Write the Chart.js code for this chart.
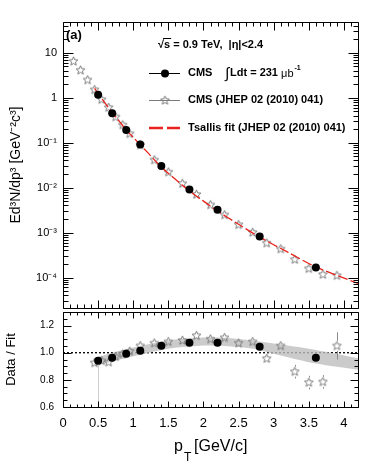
<!DOCTYPE html>
<html>
<head>
<meta charset="utf-8">
<script src="https://cdn.jsdelivr.net/npm/chart.js@4.4.1/dist/chart.umd.min.js"></script>
<style>
html, body { margin: 0; padding: 0; background: #fff; }
#wrap { position: relative; width: 374px; height: 474px; overflow: hidden; }
canvas { position: absolute; left: 0; }
#top { top: 0; }
#bot { top: 300px; }
</style>
</head>
<body>
<div id="wrap">
  <canvas id="top" width="374" height="314"></canvas>
  <canvas id="bot" width="374" height="174"></canvas>
</div>
<script>
// CMS, this measurement (filled circles)
var cmsPt = [0.5, 0.7, 0.9, 1.1, 1.4, 1.8, 2.2, 2.8, 3.6];
var cmsYield = [1.16, 0.45, 0.19, 0.091, 0.030, 0.0090, 0.0032, 0.00082, 0.000166];
var cmsRatio = [0.94, 0.963, 0.993, 1.015, 1.052, 1.074, 1.074, 1.044, 0.963];
var cmsRatioErrLo = [0.34, 0, 0, 0, 0, 0, 0, 0, 0];

// CMS JHEP 02 (2010) 041 (open stars)
var jhepPt = [0.15, 0.25, 0.35, 0.45, 0.55, 0.65, 0.75, 0.85, 0.95, 1.1, 1.3, 1.5, 1.7, 1.9, 2.1, 2.3, 2.5, 2.7, 2.9, 3.1, 3.3, 3.5, 3.7, 3.9];
var jhepYield = [6.4, 4.05, 2.46, 1.49, 0.90, 0.60, 0.37, 0.246, 0.157, 0.088, 0.041, 0.022, 0.0122, 0.0070, 0.0041, 0.00246, 0.00149, 0.0010, 0.00058, 0.00043, 0.00025, 0.000157, 0.000116, 0.00011];
var jhepRatioPt = [0.45, 0.55, 0.65, 0.75, 0.85, 0.95, 1.1, 1.3, 1.5, 1.7, 1.9, 2.1, 2.3, 2.5, 2.7, 2.9, 3.1, 3.3, 3.5, 3.7, 3.9];
var jhepRatio = [0.925, 0.94, 0.93, 0.97, 0.99, 1.01, 1.05, 1.07, 1.08, 1.09, 1.125, 1.10, 1.11, 1.07, 1.08, 0.956, 1.05, 0.86, 0.78, 0.785, 1.05];
var jhepRatioErr = [0.01, 0.01, 0.01, 0.01, 0.01, 0.01, 0.012, 0.012, 0.015, 0.015, 0.02, 0.02, 0.02, 0.025, 0.025, 0.03, 0.035, 0.05, 0.05, 0.05, 0.1];

// Tsallis fit (red dashed)
var fitPt = [0.45, 0.5, 0.6, 0.7, 0.8, 0.9, 1.0, 1.2, 1.4, 1.6, 1.8, 2.0, 2.2, 2.5, 2.8, 3.2, 3.6, 4.2];
var fitYield = [1.60, 1.23, 0.75, 0.467, 0.30, 0.191, 0.131, 0.0613, 0.0285, 0.0153, 0.0084, 0.0050, 0.0030, 0.00153, 0.00079, 0.000367, 0.000172, 0.000074];

// grey band in the ratio panel
var bandPt = [0.45, 0.7, 1.1, 1.5, 1.9, 2.3, 2.7, 3.1, 3.6, 4.2];
var bandLo = [0.90, 0.935, 0.985, 1.03, 1.05, 1.05, 1.03, 0.98, 0.92, 0.875];
var bandHi = [0.96, 1.00, 1.05, 1.09, 1.11, 1.11, 1.09, 1.06, 1.02, 0.96];

var xTicks = [0, 0.5, 1, 1.5, 2, 2.5, 3, 3.5, 4];
var logTicks = [1e-4, 1e-3, 1e-2, 1e-1, 1, 10];
var logTickLabels = ['10\u207B\u2074', '10\u207B\u00B3', '10\u207B\u00B2', '10\u207B\u00B9', '1', '10'];
var ratioTicks = [0.6, 0.8, 1.0, 1.2];

var FONT = '"Liberation Sans", Arial, Helvetica, sans-serif';
Chart.defaults.font.family = FONT;
Chart.defaults.color = '#000';

function pts(xs, ys) {
  return xs.map(function (x, i) { return { x: x, y: ys[i] }; });
}

function makeStar(r, color) {
  var s = Math.ceil(r * 2 + 3);
  var c = document.createElement('canvas');
  c.width = s; c.height = s;
  var g = c.getContext('2d');
  g.strokeStyle = color;
  g.lineWidth = 1;
  g.beginPath();
  for (var i = 0; i < 10; i++) {
    var ang = -Math.PI / 2 + i * Math.PI / 5;
    var rr = i % 2 ? r * 0.45 : r;
    var px = s / 2 + rr * Math.cos(ang), py = s / 2 + rr * Math.sin(ang);
    if (i) g.lineTo(px, py); else g.moveTo(px, py);
  }
  g.closePath();
  g.stroke();
  return c;
}
var star = makeStar(4.6, '#7a7a7a');

// ROOT style frame: box + inner ticks on all four sides
function drawFrame(chart, o) {
  var ctx = chart.ctx, a = chart.chartArea, xs = chart.scales.x, ys = chart.scales.y;
  ctx.save();
  ctx.strokeStyle = '#000';
  ctx.lineWidth = 1;
  var L = Math.round(a.left) + 0.5, R = Math.round(a.right) + 0.5;
  var T = Math.round(a.top) + 0.5, B = Math.round(a.bottom) + 0.5;
  ctx.beginPath();
  ctx.rect(L, T, R - L, B - T);
  for (var i = 0; i <= 42; i++) {
    var px = Math.round(xs.getPixelForValue(i / 10)) + 0.5;
    var len = i % 5 === 0 ? o.xMajor : o.xMinor;
    ctx.moveTo(px, T); ctx.lineTo(px, T + len);
    ctx.moveTo(px, B); ctx.lineTo(px, B - len);
  }
  o.yTicks.forEach(function (t) {
    if (t.v < ys.min - 1e-12 || t.v > ys.max + 1e-12) return;
    var py = Math.round(ys.getPixelForValue(t.v)) + 0.5;
    ctx.moveTo(L, py); ctx.lineTo(L + t.len, py);
    ctx.moveTo(R, py); ctx.lineTo(R - t.len, py);
  });
  ctx.stroke();
  ctx.restore();
}

var logMinor = [];
for (var e = -5; e <= 1; e++) {
  for (var k = 1; k <= 9; k++) {
    logMinor.push({ v: k * Math.pow(10, e), len: k === 1 ? 10 : 5 });
  }
}
var linMinor = [];
for (var j = 0; j <= 14; j++) {
  linMinor.push({ v: 0.6 + j * 0.05, len: j % 4 === 0 ? 8 : 4 });
}

var topFrame = {
  id: 'topFrame',
  afterDraw: function (chart) {
    drawFrame(chart, { xMajor: 8, xMinor: 4, yTicks: logMinor });
    var ctx = chart.ctx;
    ctx.save();
    ctx.fillStyle = '#000';
    ctx.textBaseline = 'middle';
    ctx.font = 'bold 13px ' + FONT;
    ctx.fillText('(a)', 66, 35);

    ctx.font = 'bold 11px ' + FONT;
    ctx.fillText('\u221A', 158, 45);
    var sx = 158 + ctx.measureText('\u221A').width;
    ctx.fillText('s = 0.9 TeV,  |\u03B7|<2.4', sx, 45);
    var sw = ctx.measureText('s').width;
    ctx.fillRect(sx - 1, 38, sw + 2, 1);

    // legend
    ctx.strokeStyle = '#000';
    ctx.lineWidth = 1;
    ctx.beginPath(); ctx.moveTo(149, 73.5); ctx.lineTo(180, 73.5); ctx.stroke();
    ctx.beginPath(); ctx.arc(165, 73.5, 4, 0, Math.PI * 2); ctx.fill();
    ctx.fillText('CMS', 188, 73);
    ctx.font = '15px ' + FONT;
    ctx.fillText('\u222B', 225, 74);
    ctx.font = 'bold 11px ' + FONT;
    ctx.fillText('Ldt = 231 ', 230, 73);
    var lx = 230 + ctx.measureText('Ldt = 231 ').width;
    ctx.font = '11px ' + FONT;
    ctx.fillText('\u03BCb', lx, 74);
    lx += ctx.measureText('\u03BCb').width;
    ctx.font = 'bold 7px ' + FONT;
    ctx.fillText('-1', lx + 1, 68);

    ctx.strokeStyle = '#7a7a7a';
    ctx.beginPath(); ctx.moveTo(149, 100.5); ctx.lineTo(180, 100.5); ctx.stroke();
    ctx.drawImage(star, 165 - star.width / 2, 100.5 - star.height / 2);
    ctx.font = 'bold 11px ' + FONT;
    ctx.fillText('CMS (JHEP 02 (2010) 041)', 188, 100);

    ctx.strokeStyle = '#e8221c';
    ctx.lineWidth = 2.5;
    ctx.beginPath();
    ctx.moveTo(149, 128); ctx.lineTo(163, 128);
    ctx.moveTo(167, 128); ctx.lineTo(180, 128);
    ctx.stroke();
    ctx.fillText('Tsallis fit (JHEP 02 (2010) 041)', 188, 128);
    ctx.restore();
  }
};

var botFrame = {
  id: 'botFrame',
  afterDatasetsDraw: function (chart) {
    var ctx = chart.ctx, xs = chart.scales.x, ys = chart.scales.y;
    ctx.save();
    ctx.lineWidth = 1;
    // error bars of the stars
    ctx.strokeStyle = '#8a8a8a';
    ctx.beginPath();
    jhepRatioPt.forEach(function (x, i) {
      var px = Math.round(xs.getPixelForValue(x)) + 0.5;
      var py = ys.getPixelForValue(jhepRatio[i]);
      var hi = ys.getPixelForValue(jhepRatio[i] + jhepRatioErr[i]);
      var lo = ys.getPixelForValue(jhepRatio[i] - jhepRatioErr[i]);
      if (py - hi > 5) { ctx.moveTo(px, hi); ctx.lineTo(px, py - 5); }
      if (lo - py > 5) { ctx.moveTo(px, py + 5); ctx.lineTo(px, lo); }
    });
    ctx.stroke();
    ctx.strokeStyle = '#cfcfcf';
    ctx.beginPath();
    cmsPt.forEach(function (x, i) {
      if (!cmsRatioErrLo[i]) return;
      var px = Math.round(xs.getPixelForValue(x)) + 0.5;
      ctx.moveTo(px, ys.getPixelForValue(cmsRatio[i]) + 4);
      ctx.lineTo(px, ys.getPixelForValue(cmsRatio[i] - cmsRatioErrLo[i]));
    });
    ctx.stroke();
    ctx.restore();
  },
  afterDraw: function (chart) {
    drawFrame(chart, { xMajor: 6, xMinor: 3, yTicks: linMinor });
    var ctx = chart.ctx;
    ctx.save();
    ctx.fillStyle = '#000';
    ctx.textBaseline = 'alphabetic';
    ctx.font = '16px ' + FONT;
    ctx.fillText('p', 174, 151);
    ctx.font = '12px ' + FONT;
    ctx.fillText('T', 184, 161);
    ctx.font = '16px ' + FONT;
    ctx.fillText('[GeV/c]', 194, 151);
    ctx.restore();
  }
};

new Chart(document.getElementById('top'), {
  type: 'scatter',
  data: {
    datasets: [
      { label: 'CMS', data: pts(cmsPt, cmsYield), pointStyle: 'circle', pointRadius: 4,
        backgroundColor: '#000', borderColor: '#000', borderWidth: 0 },
      { label: 'Tsallis fit', data: pts(fitPt, fitYield), showLine: true, pointRadius: 0,
        borderColor: '#e8221c', borderWidth: 1.3, borderDash: [10, 3], tension: 0.3 },
      { label: 'CMS (JHEP 02 (2010) 041)', data: pts(jhepPt, jhepYield), pointStyle: star,
        pointRadius: 5 }
    ]
  },
  options: {
    responsive: false,
    animation: false,
    layout: { padding: { top: 22, right: 16, bottom: 2, left: 0 } },
    plugins: { legend: { display: false }, tooltip: { enabled: false } },
    scales: {
      x: { type: 'linear', min: 0, max: 4.2, display: false },
      y: {
        type: 'logarithmic', min: 2.1e-5, max: 48,
        afterFit: function (s) { s.width = 63; s.paddingTop = 0; s.paddingBottom = 0; },
        afterBuildTicks: function (s) { s.ticks = logTicks.map(function (v) { return { value: v }; }); },
        ticks: {
          font: { size: 11 }, padding: 6, autoSkip: false,
          callback: function (v) { return logTickLabels[logTicks.indexOf(v)]; }
        },
        grid: { display: false, drawTicks: false },
        border: { display: false },
        title: { display: true, text: 'Ed\u00B3N/dp\u00B3 [GeV\u207B\u00B2c\u00B3]', font: { size: 14 },
          padding: { top: 8, bottom: 0 } }
      }
    }
  },
  plugins: [topFrame]
});

new Chart(document.getElementById('bot'), {
  type: 'scatter',
  data: {
    datasets: [
      { label: 'CMS', data: pts(cmsPt, cmsRatio), pointStyle: 'circle', pointRadius: 4,
        backgroundColor: '#000', borderColor: '#000', borderWidth: 0 },
      { label: 'JHEP', data: pts(jhepRatioPt, jhepRatio), pointStyle: star, pointRadius: 5 },
      { label: 'band hi', data: pts(bandPt, bandHi), showLine: true, pointRadius: 0, borderWidth: 0,
        fill: '+1', backgroundColor: 'rgba(190,190,190,0.8)', tension: 0.3 },
      { label: 'band lo', data: pts(bandPt, bandLo), showLine: true, pointRadius: 0, borderWidth: 0,
        tension: 0.3 },
      { label: 'unity', data: [{ x: 0, y: 1 }, { x: 4.2, y: 1 }], showLine: true, pointRadius: 0,
        borderColor: '#000', borderWidth: 1.3, borderDash: [2, 2] }
    ]
  },
  options: {
    responsive: false,
    animation: false,
    layout: { padding: { top: 12, right: 16, bottom: 0, left: 0 } },
    plugins: { legend: { display: false }, tooltip: { enabled: false } },
    scales: {
      x: {
        type: 'linear', min: 0, max: 4.2,
        afterFit: function (s) { s.height = 67; s.paddingLeft = 0; s.paddingRight = 0; },
        afterBuildTicks: function (s) { s.ticks = xTicks.map(function (v) { return { value: v }; }); },
        ticks: { font: { size: 13 }, padding: 9, maxRotation: 0, autoSkip: false,
          callback: function (v) { return String(v); } },
        grid: { display: false, drawTicks: false },
        border: { display: false }
      },
      y: {
        type: 'linear', min: 0.6, max: 1.3,
        afterFit: function (s) { s.width = 63; s.paddingTop = 0; s.paddingBottom = 0; },
        afterBuildTicks: function (s) { s.ticks = ratioTicks.map(function (v) { return { value: v }; }); },
        ticks: { font: { size: 10 }, padding: 9, autoSkip: false,
          callback: function (v) { return v.toFixed(1); } },
        grid: { display: false, drawTicks: false },
        border: { display: false },
        title: { display: true, text: 'Data / Fit', font: { size: 13 }, padding: { top: 4, bottom: 0 } }
      }
    }
  },
  plugins: [botFrame]
});
</script>
</body>
</html>
